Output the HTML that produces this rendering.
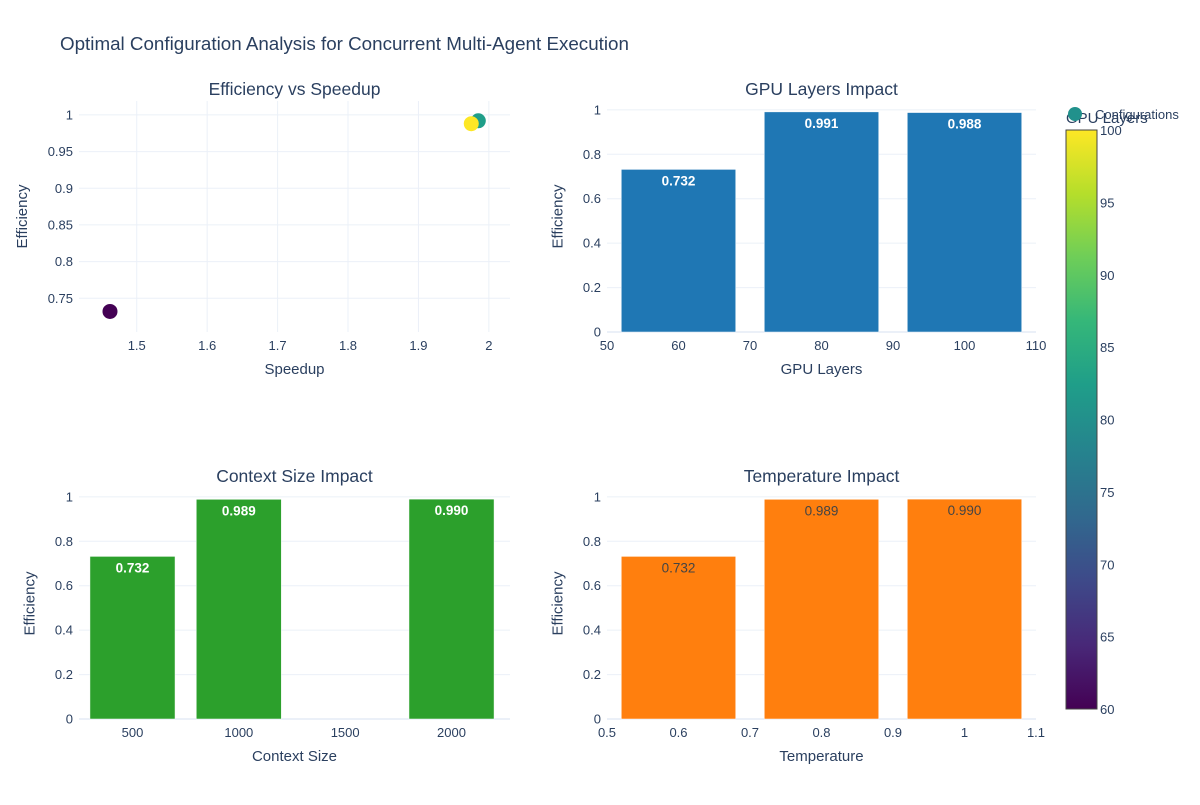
<!DOCTYPE html>
<html><head><meta charset="utf-8"><style>
body{margin:0;background:#fff;}
svg text{font-family:"Liberation Sans",Arial,sans-serif;fill:#2a3f5f;}
</style></head><body>
<svg id="chart" width="1200" height="800" xmlns="http://www.w3.org/2000/svg">
<defs><linearGradient id="viridis" x1="0" y1="1" x2="0" y2="0">
<stop offset="0" stop-color="#440154"/><stop offset="0.11" stop-color="#482878"/><stop offset="0.22" stop-color="#3e4989"/><stop offset="0.33" stop-color="#31688e"/><stop offset="0.44" stop-color="#26828e"/><stop offset="0.56" stop-color="#1f9e89"/><stop offset="0.67" stop-color="#35b779"/><stop offset="0.78" stop-color="#6ece58"/><stop offset="0.89" stop-color="#b5de2b"/><stop offset="1" stop-color="#fde725"/></linearGradient></defs>
<text x="60" y="50" font-size="18.8">Optimal Configuration Analysis for Concurrent Multi-Agent Execution</text>
</svg>
<script>
const speedup=[1.462,1.985,1.975];
const scatterEff=[0.732,0.992,0.988];
const scatterGpu=[60,80,100];
const gpuLayers=[60,80,100];
const gpuEff=[0.732,0.991,0.988];
const ctxSizes=[500,1000,2000];
const ctxEff=[0.732,0.989,0.990];
const temps=[0.6,0.8,1.0];
const tempEff=[0.732,0.989,0.990];
const scatterXTicks=[1.5,1.6,1.7,1.8,1.9,2];
const scatterYTicks=[0.75,0.8,0.85,0.9,0.95,1];
const barYTicks=[0,0.2,0.4,0.6,0.8,1];
const gpuXTicks=[50,60,70,80,90,100,110];
const ctxXTicks=[500,1000,1500,2000];
const tempXTicks=[0.5,0.6,0.7,0.8,0.9,1,1.1];
const cbTicks=[60,65,70,75,80,85,90,95,100];

const svg=document.getElementById('chart');
const NS='http://www.w3.org/2000/svg';
function el(tag,attrs,parent){const e=document.createElementNS(NS,tag);for(const k in attrs)e.setAttribute(k,attrs[k]);(parent||svg).appendChild(e);return e;}
function txt(x,y,s,size,anchor,extra){const t=el('text',Object.assign({x:x,y:y,'font-size':size,'text-anchor':anchor||'middle'},extra||{}));t.textContent=s;return t;}
function scale(d0,d1,r0,r1){return v=>r0+(v-d0)/(d1-d0)*(r1-r0);}
const vir=['#440154','#482878','#3e4989','#31688e','#26828e','#1f9e89','#35b779','#6ece58','#b5de2b','#fde725'];
function viridis(v){const t=Math.max(0,Math.min(1,(v-60)/40))*(vir.length-1);const i=Math.round(t);return vir[i];}

function panel(o){
  const g=el('g',{});
  
  
  const X=scale(o.xd[0],o.xd[1],o.x0,o.x1),Y=scale(o.yd[0],o.yd[1],o.y1,o.y0);
  o.yt.forEach(v=>{const l=el('line',{x1:o.x0,x2:o.x1,y1:Y(v),y2:Y(v),stroke:'#ebf0f8'},g);
    const t=txt(o.x0-6,Y(v)+4.5,String(v),13,'end');g.appendChild(t);});
  o.xt.forEach(v=>{if(o.xgrid){const l=el('line',{x1:X(v),x2:X(v),y1:o.y0,y2:o.y1,stroke:'#ebf0f8'},g);}
    const t=txt(X(v),o.y1+18,String(v),13);g.appendChild(t);});
  const tt=txt((o.x0+o.x1)/2,o.y0-6,o.title,17.5);g.appendChild(tt);
  const xl=txt((o.x0+o.x1)/2,o.y1+42,o.xl,15);g.appendChild(xl);
  const yx=o.x0-Math.max(...o.yt.map(v=>String(v).length))*7.5-22;
  const yl=txt(yx,(o.y0+o.y1)/2,'Efficiency',15,'middle',{transform:`rotate(-90 ${yx} ${(o.y0+o.y1)/2})`});g.appendChild(yl);
  return {g,X,Y};
}

let p=panel({name:'efficiency-vs-speedup-panel',x0:79,x1:510,y0:101,y1:332,xd:[1.418,2.03],yd:[0.704,1.019],xt:scatterXTicks,yt:scatterYTicks,xgrid:true,title:'Efficiency vs Speedup',xl:'Speedup'});
speedup.forEach((s,i)=>{const c=el('circle',{cx:p.X(s),cy:p.Y(scatterEff[i]),r:7.5,fill:viridis(scatterGpu[i])},p.g);});

function bars(o,xs,ys,w,color,labColor,bold){
  const p=panel(o);
  const zl=el('line',{x1:o.x0,x2:o.x1,y1:p.Y(0),y2:p.Y(0),stroke:'#ebf0f8','stroke-width':2},p.g);
  xs.forEach((x,i)=>{const xa=p.X(x-w/2),xb=p.X(x+w/2);
    const r=el('rect',{x:xa,y:p.Y(ys[i]),width:xb-xa,height:p.Y(0)-p.Y(ys[i]),fill:color,stroke:'#fff','stroke-width':0.5},p.g);
    
    const t=txt((xa+xb)/2,p.Y(ys[i])+16,ys[i].toFixed(3),13.5,'middle',{style:`fill:${labColor};font-weight:${bold?'bold':'normal'}`});p.g.appendChild(t);
    });
}
bars({name:'gpu-layers-panel',x0:607,x1:1036,y0:101,y1:332,xd:[50,110],yd:[0,1.04],xt:gpuXTicks,yt:barYTicks,title:'GPU Layers Impact',xl:'GPU Layers'},gpuLayers,gpuEff,16,'#1f77b4','#fff',true);
bars({name:'context-size-panel',x0:79,x1:510,y0:488,y1:719,xd:[248.5,2275],yd:[0,1.04],xt:ctxXTicks,yt:barYTicks,title:'Context Size Impact',xl:'Context Size'},ctxSizes,ctxEff,400,'#2ca02c','#fff',true);
bars({name:'temperature-panel',x0:607,x1:1036,y0:488,y1:719,xd:[0.5,1.1],yd:[0,1.04],xt:tempXTicks,yt:barYTicks,title:'Temperature Impact',xl:'Temperature'},temps,tempEff,0.16,'#ff7f0e','#444',false);

const cb=el('g',{});


el('rect',{x:1066,y:130,width:31,height:579,fill:'url(#viridis)',stroke:'#444','stroke-width':1},cb);
const CY=scale(60,100,709,130);
cbTicks.forEach(v=>{const t=txt(1100,CY(v)+5,String(v),13,'start');cb.appendChild(t);});
const ct=txt(1066,123,'GPU Layers',15,'start');cb.appendChild(ct);
const lg=el('g',{});


el('circle',{cx:1075,cy:114,r:7,fill:'#21918c'},lg);
const lt=txt(1095,119,'Configurations',13,'start');lg.appendChild(lt);
</script>
</body></html>
